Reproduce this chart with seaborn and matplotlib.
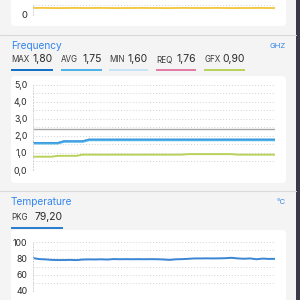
import matplotlib
matplotlib.use("Agg")
import matplotlib.pyplot as plt
from matplotlib.patches import FancyBboxPatch, Rectangle
import seaborn as sns
import pandas as pd

# ---------------- data ----------------
top_values = [7.0, 7.1, 7.0, 6.9, 7.0, 7.1, 7.0, 7.0, 7.1, 7.0, 6.9, 7.0, 7.0, 7.1, 7.0,
              7.0, 6.9, 7.0, 7.1, 7.0, 7.0, 7.0, 7.1, 7.0, 6.9, 7.0, 7.0, 7.1, 7.0, 7.0]

freq_max = [1.6, 1.6, 1.6, 1.6, 1.6, 1.7, 1.7, 1.7, 1.7, 1.8, 1.8, 1.8, 1.8, 1.8, 1.8, 1.8,
            1.8, 1.8, 1.8, 1.8, 1.8, 1.8, 1.8, 1.8, 1.8, 1.8, 1.8, 1.8, 1.8, 1.8, 1.8, 1.8,
            1.8, 1.8, 1.8, 1.8, 1.8, 1.8, 1.8, 1.8]
freq_avg = [1.57, 1.57, 1.57, 1.57, 1.57, 1.67, 1.67, 1.67, 1.67, 1.76, 1.76, 1.76, 1.76, 1.76,
            1.76, 1.76, 1.76, 1.76, 1.76, 1.76, 1.76, 1.76, 1.76, 1.76, 1.76, 1.76, 1.76, 1.76,
            1.76, 1.76, 1.76, 1.76, 1.76, 1.76, 1.76, 1.76, 1.76, 1.76, 1.76, 1.76]
freq_gfx = [0.78, 0.78, 0.78, 0.78, 0.83, 0.83, 0.83, 0.83, 0.9, 0.9, 0.9, 0.9, 0.9, 0.9,
            0.9, 0.9, 0.9, 0.9, 0.9, 0.9, 0.9, 0.9, 0.9, 0.9, 0.9, 0.93, 0.93, 0.93, 0.93,
            0.93, 0.93, 0.93, 0.93, 0.9, 0.9, 0.9, 0.9, 0.9, 0.9, 0.9]
freq_limit = 2.4

temp_pkg = [80.4, 79.2, 78.8, 78.2, 78.0, 78.0, 78.2, 77.9, 78.6, 78.8, 78.7, 78.9, 78.6,
            79.2, 79.0, 79.1, 79.0, 79.1, 79.0, 79.1, 79.0, 78.7, 78.2, 78.9, 79.1, 79.5,
            80.0, 80.0, 80.1, 80.0, 80.1, 80.3, 80.8, 80.0, 79.6, 80.0, 79.0, 79.8, 79.4, 79.5]

legend_names = ["MAX", "AVG", "MIN", "REQ", "GFX"]
legend_values = ["1,80", "1,75", "1,60", "1,76", "0,90"]
legend_colors = ["#1570c8", "#4fb3ea", "#c6e4f6", "#e27ea3", "#b7d35b"]

top_ticks = [0]
top_tick_labels = ["0"]
freq_ticks = [0, 1, 2, 3, 4, 5]
freq_tick_labels = ["0,0", "1,0", "2,0", "3,0", "4,0", "5,0"]
temp_ticks = [40, 60, 80, 100]
temp_tick_labels = ["40", "60", "80", "100"]

# ---------------- style ----------------
sns.set_theme(style="white")
plt.rcParams["font.family"] = ["Inter", "DejaVu Sans"]

W = H = 300
fig = plt.figure(figsize=(3, 3), dpi=100)
fig.patch.set_facecolor("#f4f4f5")

BLUE_TXT = "#3485ec"
GRID = "#d2d2d2"


def fx(x):
    return x / W


def fy(y):
    return 1 - y / H


def card(x0, y0, x1, y1):
    p = FancyBboxPatch((fx(x0), fy(y1)), fx(x1 - x0), (y1 - y0) / H,
                       boxstyle="round,pad=0,rounding_size=0.013",
                       transform=fig.transFigure, facecolor="white",
                       edgecolor="none", zorder=-5)
    fig.patches.append(p)


def hline(y, x0=0, x1=296, color="#d9d9d9", lw=0.8):
    fig.add_artist(plt.Line2D([fx(x0), fx(x1)], [fy(y), fy(y)],
                              transform=fig.transFigure, color=color, lw=lw))


def axes_px(x0, ytop, x1, ybot):
    return fig.add_axes([fx(x0), fy(ybot), fx(x1 - x0), (ybot - ytop) / H])


def style_ax(ax, ylim, major, labels, minor):
    ax.set_facecolor("none")
    ax.set_ylim(*ylim)
    ax.set_yticks(major)
    ax.set_yticklabels(labels)
    ax.set_yticks(minor, minor=True)
    ax.tick_params(axis="y", which="both", length=0, pad=4, labelsize=6.3,
                   labelcolor="#2a2a2a")
    ax.set_xticks([])
    ax.grid(axis="y", which="both", color=GRID, linestyle=(0, (1, 2)), lw=0.7)
    ax.set_axisbelow(True)
    for s in ["top", "right", "bottom"]:
        ax.spines[s].set_visible(False)
    ax.spines["left"].set_color(GRID)
    ax.spines["left"].set_linestyle((0, (1, 2)))
    ax.spines["left"].set_linewidth(0.7)
    ax.set_xlabel("")
    ax.set_ylabel("")


# right dark strip
fig.patches.append(Rectangle((fx(296), 0), fx(4), 1, transform=fig.transFigure,
                             facecolor="#3b3947", edgecolor="none", zorder=-5))

# ---------------- top (cropped) card ----------------
card(11, -10, 286, 26)
ax0 = axes_px(33, 5, 275, 15)
n0 = list(range(len(top_values)))
sns.lineplot(x=n0, y=top_values, ax=ax0, color="#f3c53c", lw=1.3)
style_ax(ax0, (0, 10), top_ticks, top_tick_labels, [10])
ax0.set_xlim(0, len(top_values) - 1)
ax0.tick_params(axis="y", labelsize=6.8)

hline(35)

# ---------------- frequency ----------------
fig.text(fx(11), fy(46), "Frequency", color=BLUE_TXT, fontsize=7.3, va="center", ha="left")
fig.text(fx(286), fy(46), "GHZ", color=BLUE_TXT, fontsize=5.5, va="center", ha="right")

leg_x = [11, 61, 109, 156, 204]
leg_w = [42, 41, 39, 40, 41]
for x, w, name, val, col in zip(leg_x, leg_w, legend_names, legend_values, legend_colors):
    fig.text(fx(x), fy(60), name, color="#3a3a3a", fontsize=5.8, va="center", ha="left")
    fig.text(fx(x + w), fy(59.5), val, color="#2a2a2a", fontsize=7.5, va="center", ha="right")
    fig.patches.append(Rectangle((fx(x), fy(71)), fx(w), 2 / H, transform=fig.transFigure,
                                 facecolor=col, edgecolor="none"))

card(11, 76, 286, 183)
ax1 = axes_px(33, 84.7, 275, 170)
n1 = list(range(len(freq_max)))
df1 = pd.DataFrame({"t": n1, "MAX": freq_max, "AVG": freq_avg, "GFX": freq_gfx})
ax1.axhline(freq_limit, color="#a8a8a8", lw=1.0)
sns.lineplot(data=df1, x="t", y="AVG", ax=ax1, color=legend_colors[1], lw=1.8)
sns.lineplot(data=df1, x="t", y="MAX", ax=ax1, color="#3f97dc", lw=0.9)
sns.lineplot(data=df1, x="t", y="GFX", ax=ax1, color=legend_colors[4], lw=1.4)
style_ax(ax1, (0, 5), freq_ticks, freq_tick_labels, [0.5, 1.5, 2.5, 3.5, 4.5])
ax1.set_xlim(0, len(freq_max) - 1)

hline(190.5)

# ---------------- temperature ----------------
fig.text(fx(11), fy(202), "Temperature", color=BLUE_TXT, fontsize=7.3, va="center", ha="left")
fig.text(fx(286), fy(202), "°C", color=BLUE_TXT, fontsize=5.5, va="center", ha="right")
fig.text(fx(11), fy(218), "PKG", color="#3a3a3a", fontsize=5.8, va="center", ha="left")
fig.text(fx(63), fy(217.5), "79,20", color="#2a2a2a", fontsize=7.5, va="center", ha="right")
fig.patches.append(Rectangle((fx(11), fy(228.5)), fx(52), 2 / H, transform=fig.transFigure,
                             facecolor="#2a7fd0", edgecolor="none"))

card(11, 230, 286, 310)
ax2 = axes_px(33, 242.3, 275, 290.7)
n2 = list(range(len(temp_pkg)))
sns.lineplot(x=n2, y=temp_pkg, ax=ax2, color="#3a86d4", lw=1.4)
style_ax(ax2, (40, 100), temp_ticks, temp_tick_labels, [50, 70, 90])
ax2.set_xlim(0, len(temp_pkg) - 1)

fig.savefig("out.png", dpi=100, facecolor=fig.get_facecolor())
